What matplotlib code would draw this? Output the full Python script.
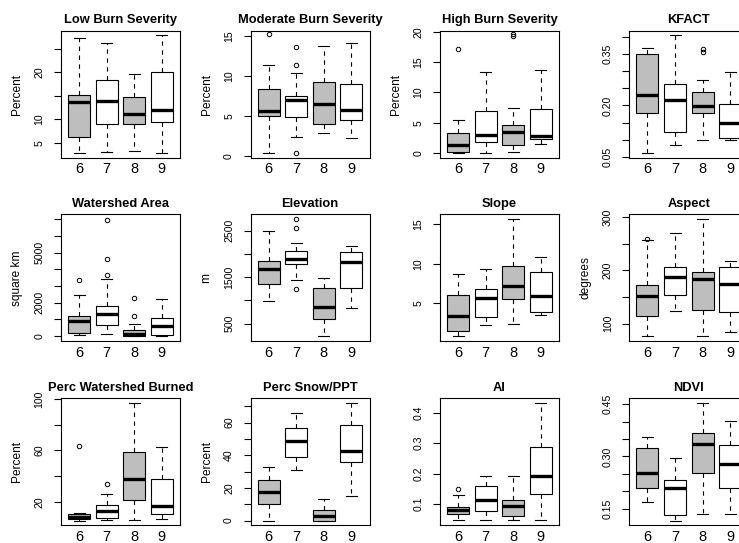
import matplotlib
matplotlib.use("Agg")
import matplotlib.pyplot as plt

plt.rcParams['font.family'] = ['Liberation Sans', 'DejaVu Sans']

groups = ['6', '7', '8', '9']
fills = ['#BEBEBE', 'white', '#BEBEBE', 'white']

titles = ['Low Burn Severity', 'Moderate Burn Severity', 'High Burn Severity', 'KFACT',
          'Watershed Area', 'Elevation', 'Slope', 'Aspect',
          'Perc Watershed Burned', 'Perc Snow/PPT', 'AI', 'NDVI']
ylabels = ['Percent', 'Percent', 'Percent', '',
           'square km', 'm', '', 'degrees',
           'Percent', 'Percent', '', '']

# five-number summaries per group: (lower whisker, Q1, median, Q3, upper whisker)
low_burn = [(2.86, 6.29, 13.7, 15.14, 27.4), (3.0, 9.0, 13.86, 18.5, 26.2),
            (3.29, 9.0, 11.14, 14.7, 19.64), (2.71, 9.36, 12.07, 20.14, 27.93)]
low_burn_out = [[], [], [], []]
mod_burn = [(0.42, 4.94, 5.65, 8.33, 11.38), (2.38, 4.85, 6.95, 7.45, 10.33),
            (2.93, 3.97, 6.44, 9.2, 13.72), (2.22, 4.44, 5.73, 9.04, 14.1)]
mod_burn_out = [[15.2], [13.6, 11.34, 0.38], [], []]
high_burn = [(0.0, 0.22, 1.23, 3.29, 5.46), (0.0, 1.78, 2.95, 6.85, 13.3),
             (0.22, 1.23, 3.4, 4.68, 7.35), (1.39, 2.28, 2.73, 7.24, 13.76)]
high_burn_out = [[17.2], [], [19.4, 19.7], []]
kfact = [(0.061, 0.177, 0.231, 0.352, 0.369), (0.085, 0.123, 0.215, 0.264, 0.407),
         (0.099, 0.178, 0.199, 0.238, 0.274), (0.099, 0.105, 0.150, 0.203, 0.298)]
kfact_out = [[], [], [0.356, 0.364], []]
area = [(40, 198, 890, 1206, 2472), (99, 653, 1345, 1800, 3421),
        (0, 0, 99, 356, 751), (0, 40, 593, 1068, 2215)]
area_out = [[3381], [6961, 4627, 3638], [2294, 1226], []]
elevation = [(986, 1343, 1671, 1843, 2500), (1443, 1779, 1886, 2071, 2229),
             (236, 600, 857, 1264, 1471), (843, 1264, 1829, 2043, 2179)]
elevation_out = [[], [2750, 2550, 1250], [], []]
slope = [(0.86, 1.58, 3.44, 6.01, 8.71), (2.30, 3.35, 5.68, 6.81, 9.30),
         (2.43, 5.55, 7.19, 9.68, 15.63), (3.52, 3.90, 5.97, 9.0, 10.82)]
slope_out = [[], [], [], []]
aspect = [(76.2, 114.4, 152.7, 172, 256.8), (123.2, 153.3, 187.8, 205.3, 269.3),
          (76.2, 125.1, 184, 197.2, 295.6), (84.3, 121.9, 174, 206.6, 216.6)]
aspect_out = [[259], [], [], []]
burned = [(5.45, 6.75, 8.57, 10.4, 11.4), (5.7, 7.8, 13.0, 17.66, 26.0),
          (5.7, 21.8, 37.7, 58.7, 97.1), (6.75, 10.65, 16.9, 37.4, 62.6)]
burned_out = [[63.4], [33.8], [], []]
snow = [(0, 10.4, 17.2, 24.9, 32.9), (30.9, 38.9, 48.7, 56.6, 65.6),
        (0, 0, 3.07, 6.5, 13.5), (14.9, 36.0, 42.7, 58.3, 72.0)]
snow_out = [[], [], [], []]
ai = [(0.0496, 0.0671, 0.080, 0.0923, 0.1296), (0.0496, 0.079, 0.115, 0.159, 0.192),
      (0.0474, 0.0606, 0.0945, 0.115, 0.193), (0.0474, 0.132, 0.193, 0.287, 0.432)]
ai_out = [[0.150], [], [], []]
ndvi = [(0.168, 0.2106, 0.252, 0.325, 0.357), (0.115, 0.133, 0.2096, 0.231, 0.296),
        (0.134, 0.252, 0.335, 0.366, 0.454), (0.134, 0.2106, 0.277, 0.332, 0.403)]
ndvi_out = [[], [], [], []]

# y tick values and labels (blank = tick without label)
yticks = [[5, 10, 15, 20, 25], [0, 5, 10, 15], [0, 5, 10, 15, 20],
          [0.05, 0.10, 0.15, 0.20, 0.25, 0.30, 0.35, 0.40],
          [0, 1000, 2000, 3000, 4000, 5000, 6000, 7000], [500, 1000, 1500, 2000, 2500],
          [5, 10, 15], [100, 150, 200, 250, 300],
          [20, 40, 60, 80, 100], [0, 10, 20, 30, 40, 50, 60, 70],
          [0.1, 0.2, 0.3, 0.4], [0.15, 0.20, 0.25, 0.30, 0.35, 0.40, 0.45]]
yticklabels = [['5', '10', '', '20', ''], ['0', '5', '10', '15'], ['0', '5', '10', '15', '20'],
               ['0.05', '', '', '0.20', '', '', '0.35', ''],
               ['0', '', '2000', '', '', '5000', '', ''], ['500', '', '1500', '', '2500'],
               ['5', '10', '15'], ['100', '', '200', '', '300'],
               ['20', '', '60', '', '100'], ['0', '', '20', '', '40', '', '60', ''],
               ['0.1', '0.2', '0.3', '0.4'], ['0.15', '', '', '0.30', '', '', '0.45']]
ylims = [(1.79, 28.93), (-0.21, 15.65), (-0.8, 20.2), (0.047, 0.419),
         (-316, 7297), (121, 2850), (0.23, 16.22), (66.8, 305),
         (1.8, 100.5), (-2.86, 74.8), (0.031, 0.447), (0.102, 0.467)]

stats = [low_burn, mod_burn, high_burn, kfact, area, elevation, slope, aspect,
         burned, snow, ai, ndvi]
outs = [low_burn_out, mod_burn_out, high_burn_out, kfact_out, area_out, elevation_out,
        slope_out, aspect_out, burned_out, snow_out, ai_out, ndvi_out]

W, H = 739, 543
fig = plt.figure(figsize=(W / 100, H / 100), dpi=100)
col_left = [61, 250.5, 440, 629.3]
row_top = [30.7, 214.3, 398.3]
aw, ah = 119, 127

for i in range(12):
    r, c = divmod(i, 4)
    ax = fig.add_axes([col_left[c] / W, 1 - (row_top[r] + ah) / H, aw / W, ah / H])
    bx = []
    for g in range(4):
        lo, q1, med, q3, hi = stats[i][g]
        bx.append(dict(whislo=lo, q1=q1, med=med, q3=q3, whishi=hi,
                       fliers=outs[i][g], label=groups[g]))
    res = ax.bxp(bx, positions=[1, 2, 3, 4], widths=0.8, patch_artist=True,
                 boxprops=dict(edgecolor='black', linewidth=0.8),
                 whiskerprops=dict(color='black', linewidth=0.8, linestyle=(0, (4, 4))),
                 capprops=dict(color='black', linewidth=0.8),
                 medianprops=dict(color='black', linewidth=2.4, solid_capstyle='butt'),
                 flierprops=dict(marker='o', markersize=3.2, markerfacecolor='none',
                                 markeredgecolor='black', markeredgewidth=0.7))
    for p, fc in zip(res['boxes'], fills):
        p.set_facecolor(fc)
    ax.set_xlim(0.34, 4.66)
    ax.set_ylim(*ylims[i])
    ax.set_xticks([1, 2, 3, 4])
    ax.set_xticklabels(groups, fontsize=10.5)
    ax.tick_params(axis='x', length=0, pad=3.4)
    ax.set_yticks(yticks[i])
    ax.set_yticklabels(yticklabels[i], fontsize=7.6, rotation=90, va='center')
    ax.tick_params(axis='y', length=4.8, width=0.8, pad=7.0)
    for s in ax.spines.values():
        s.set_linewidth(0.8)
    ax.set_title(titles[i], fontsize=9.3, fontweight='bold', pad=5.2)
    if ylabels[i]:
        ax.annotate(ylabels[i], xy=(0, 0.5), xycoords='axes fraction',
                    xytext=(-44 * 0.72, 0), textcoords='offset points',
                    rotation=90, ha='center', va='center', fontsize=8.6)

fig.savefig('out.png', dpi=100)
